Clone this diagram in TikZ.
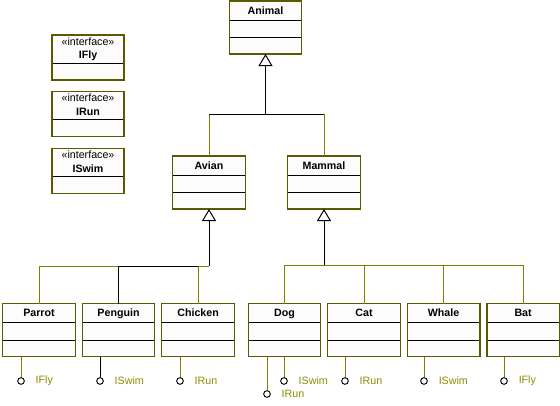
\documentclass[tikz,border=0pt]{standalone}
\usepackage{fontspec}
\setmainfont{Liberation Sans}
\usetikzlibrary{arrows.meta, positioning}

\definecolor{olivel}{RGB}{128,128,0}
\definecolor{olivetext}{RGB}{140,140,0}
\definecolor{boxline}{RGB}{90,90,0}
\definecolor{boxfill}{RGB}{252,252,252}

\begin{document}
\begin{tikzpicture}[
		x=0.75pt, y=-0.75pt,
		node distance= {5.25pt},
		line width=0.75pt,
		classbox/.style= {
				draw=boxline,
				fill=boxfill,
				line width=1pt,
				minimum width=54.4pt,
				inner xsep=0pt,
				inner ysep=2pt,
				outer sep=0pt,
				text height=7.75pt,
				text depth=28pt,
				font=\fontsize{8}{9.5}\selectfont\bfseries,
				path picture={
						\draw[black, line width=0.7pt] ([yshift=-14.5pt]path picture bounding box.north west) -- ([yshift=-14.5pt]path picture bounding box.north east);
						\draw[black, line width=0.7pt] ([yshift=-27.4pt]path picture bounding box.north west) -- ([yshift=-27.4pt]path picture bounding box.north east);
					}
			},
		ifacebox/.style= {
				draw=boxline,
				fill=boxfill,
				line width=1pt,
				minimum width=54pt,
				inner xsep=0pt,
				inner ysep=2pt,
				outer sep=0pt,
				align=center,
				text height=15.8pt,
				text depth=13.95pt,
				font=\fontsize{8}{10.2}\selectfont,
				path picture={
						\draw[black, line width=0.7pt] ([yshift=-21pt]path picture bounding box.north west) -- ([yshift=-21pt]path picture bounding box.north east);
					}
			},
		lolly/.style= {
				draw=black,
				fill=white,
				circle,
				line width=0.7pt,
				inner sep=0pt,
				minimum size=5pt,
				label={[text=olivetext, font=\fontsize{8}{9}\selectfont, label distance=4.5pt]right:#1}
			},
		branch/.style= {
				olivel
			},
		inherit/.style= {
				black,
				-{Triangle[open, length=9pt, width=10.5pt, fill=white]}
			}
	]
	\useasboundingbox (0,0) rectangle (560,405);

	% interfaces
	\node[ifacebox] (ifly) at (88,57.5) {«interface»\\\textbf{IFly}};
	\node[ifacebox] (irun) at (88,114) {«interface»\\\textbf{IRun}};
	\node[ifacebox] (iswim) at (88,171) {«interface»\\\textbf{ISwim}};

	% classes
	\node[classbox] (animal) at (265.5,27.5) {Animal};
	\node[classbox] (avian) at (209,182.5) {Avian};
	\node[classbox] (mammal) at (324,182.5) {Mammal};

	\node[classbox] (parrot) at (39,330) {Parrot};
	\node[classbox] (penguin) [right = of parrot] {Penguin};
	\node[classbox] (chicken) [right = of penguin] {Chicken};

	\node[classbox] (dog) at (284.5,330) {Dog};
	\node[classbox] (cat) [right = of dog] {Cat};
	\node[classbox] (whale) [right = of cat] {Whale};
	\node[classbox] (bat) [right = of whale] {Bat};

	% buses
	\coordinate (anbus) at (265.5,114);
	\coordinate (avbus) at (209,266);
	\coordinate (mabus) at (324,265);

	\draw[branch] (avian.north) |- (anbus);
	\draw[branch] (mammal.north) |- (anbus);
	\draw (avian.north |- anbus) -- (mammal.north |- anbus);
	\draw[inherit] (anbus) -- (animal.south);

	\draw[branch] (parrot.north) |- (avbus);
	\draw (penguin.north) |- (avbus);
	\draw[branch] (chicken.north) |- (avbus);
	\draw[inherit] (avbus) -- (avian.south);

	\draw[branch] (dog.north) |- (mabus);
	\draw[branch] (cat.north) |- (mabus);
	\draw[branch] (whale.north) |- (mabus);
	\draw[branch] (bat.north) |- (mabus);
	\draw[inherit] (mabus) -- (mammal.south);

	% provided interfaces
	\node[lolly=IFly] (parrotfly) at (21,381) {};
	\node[lolly=ISwim] (penguinswim) at (100,381) {};
	\node[lolly=IRun] (chickenrun) at (180,381) {};
	\node[lolly=IRun] (dogrun) at (267,394) {};
	\node[lolly=ISwim] (dogswim) at (284,381) {};
	\node[lolly=IRun] (catrun) at (345,381) {};
	\node[lolly=ISwim] (whaleswim) at (424,381) {};
	\node[lolly=IFly] (batfly) at (504,381) {};

	\draw[branch] (parrot.south -| parrotfly) -- (parrotfly);
	\draw (penguin.south -| penguinswim) -- (penguinswim);
	\draw[branch] (chicken.south -| chickenrun) -- (chickenrun);
	\draw[branch] (dog.south -| dogrun) -- (dogrun);
	\draw[branch] (dog.south -| dogswim) -- (dogswim);
	\draw[branch] (cat.south -| catrun) -- (catrun);
	\draw[branch] (whale.south -| whaleswim) -- (whaleswim);
	\draw[branch] (bat.south -| batfly) -- (batfly);
\end{tikzpicture}
\end{document}
